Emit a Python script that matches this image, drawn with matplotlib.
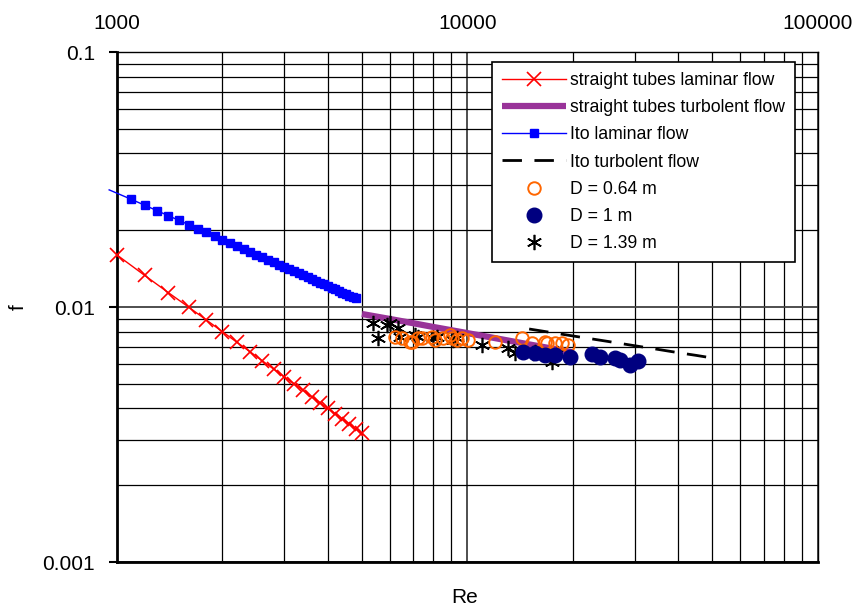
import matplotlib
matplotlib.use('Agg')
import matplotlib.pyplot as plt
from matplotlib.ticker import FixedLocator, FixedFormatter, LogLocator, NullFormatter

plt.rcParams['font.family'] = ['Liberation Sans', 'DejaVu Sans']

# straight tubes, laminar
re_lam = [1000, 1200, 1400, 1600, 1800, 2000, 2200, 2400, 2600, 2800, 3000,
          3200, 3400, 3600, 3800, 4000, 4200, 4400, 4600, 4800, 5000]
f_lam = [0.0160, 0.0133, 0.0114, 0.0100, 0.00889, 0.0080, 0.00727, 0.00667,
         0.00615, 0.00571, 0.00533, 0.0050, 0.00471, 0.00444, 0.00421, 0.0040,
         0.00381, 0.00364, 0.00348, 0.00333, 0.0032]

# straight tubes, turbulent
re_turb = [5000, 6000, 7000, 8000, 9000, 10000, 12000, 14000, 16000, 18000, 20000]
f_turb = [0.00939, 0.00898, 0.00864, 0.00835, 0.00811, 0.00790, 0.00755,
          0.00726, 0.00702, 0.00682, 0.00664]

# Ito laminar
re_ito_lam = [950, 1100, 1200, 1300, 1400, 1500, 1600, 1700, 1800, 1900, 2000,
              2100, 2200, 2300, 2400, 2500, 2600, 2700, 2800, 2900, 3000,
              3100, 3200, 3300, 3400, 3500, 3600, 3700, 3800, 3900, 4000,
              4100, 4200, 4300, 4400, 4500, 4600, 4700, 4800]
f_ito_lam = [0.0288, 0.02642, 0.02507, 0.02388, 0.02283, 0.02189, 0.02105,
             0.02029, 0.01960, 0.01897, 0.01839, 0.01785, 0.01736, 0.01689,
             0.01646, 0.01606, 0.01568, 0.01532, 0.01499, 0.01467, 0.01437,
             0.01409, 0.01382, 0.01357, 0.01332, 0.01309, 0.01287, 0.01266,
             0.01246, 0.01226, 0.01207, 0.01189, 0.01172, 0.01155, 0.01139,
             0.01124, 0.01109, 0.01094, 0.01080]

# Ito turbulent
re_ito_turb = [15000, 20000, 25000, 30000, 35000, 40000, 45000, 50000]
f_ito_turb = [0.00820, 0.00770, 0.00734, 0.00705, 0.00682, 0.00662, 0.00646, 0.00631]

# measurements
re_d064 = [6213, 6505, 6855, 6945, 7226, 7418, 7920, 8077, 8513, 8916, 9033,
           9333, 9645, 10032, 11980, 14305, 15276, 16640, 16860, 17770, 18610, 19350]
f_d064 = [0.00762, 0.00756, 0.00729, 0.00729, 0.00756, 0.00756, 0.00762,
          0.00743, 0.00756, 0.00777, 0.00756, 0.00743, 0.00756, 0.00743,
          0.00729, 0.00756, 0.00722, 0.00729, 0.00722, 0.00722, 0.00722, 0.00709]

re_d1 = [14390, 15580, 16640, 17770, 19610, 22660, 23880, 26360, 27240, 29080, 30650]
f_d1 = [0.00666, 0.00660, 0.00648, 0.00648, 0.00637, 0.00654, 0.00637,
        0.00631, 0.00620, 0.00592, 0.00614]

re_d139 = [5376, 5555, 5892, 6010, 6335, 6419, 7084, 7226, 7972, 8184, 9091,
           9333, 11000, 13050, 13660, 15380, 15580, 17200, 17420, 18010]
f_d139 = [0.00866, 0.00756, 0.00850, 0.00866, 0.00827, 0.00762, 0.00777,
          0.00762, 0.00756, 0.00762, 0.00743, 0.00756, 0.00709, 0.00691,
          0.00660, 0.00660, 0.00666, 0.00637, 0.00608, 0.00660]

fig = plt.figure(figsize=(8.52, 6.07), dpi=100)
ax = fig.add_axes([0.1373, 0.0741, 0.8227, 0.8402])
ax.set_xscale('log')
ax.set_yscale('log')
ax.set_xlim(1000, 100000)
ax.set_ylim(0.001, 0.1)

ax.plot(re_lam, f_lam, color='#FF0000', lw=1, marker='x', ms=10, mew=1.2,
        clip_on=False, label='straight tubes laminar flow', zorder=3)
ax.plot(re_turb, f_turb, color='#993399', lw=4.5, solid_capstyle='butt',
        label='straight tubes turbolent flow', zorder=3)
ax.plot(re_ito_lam, f_ito_lam, color='#0000FF', lw=1, marker='s', ms=6,
        markevery=list(range(1, len(re_ito_lam))), clip_on=False,
        label='Ito laminar flow', zorder=3)
ax.plot(re_ito_turb, f_ito_turb, color='black', lw=2, dashes=(7, 4.5),
        label='Ito turbolent flow', zorder=3)
ax.plot(re_d064, f_d064, ls='none', marker='o', ms=9, mfc='none',
        mec='#FF6600', mew=1.4, label='D = 0.64 m', zorder=5)
ax.plot(re_d1, f_d1, ls='none', marker='o', ms=10.5, color='#000080',
        label='D = 1 m', zorder=6)
ax.plot(re_d139, f_d139, ls='none', marker=(6, 2, 0), ms=11, color='black',
        mew=1.2, label='D = 1.39 m', zorder=4)

# grid on every decade subdivision
ax.xaxis.set_minor_locator(LogLocator(base=10, subs=range(2, 10)))
ax.yaxis.set_minor_locator(LogLocator(base=10, subs=range(2, 10)))
ax.grid(True, which='major', color='#404040', lw=1.3, zorder=1)
ax.grid(True, which='minor', color='black', lw=0.9, zorder=1)
ax.set_axisbelow(True)

ax.xaxis.set_major_locator(FixedLocator([1000, 10000, 100000]))
ax.xaxis.set_major_formatter(FixedFormatter(['1000', '10000', '100000']))
ax.xaxis.set_minor_formatter(NullFormatter())
ax.yaxis.set_major_locator(FixedLocator([0.001, 0.01, 0.1]))
ax.yaxis.set_major_formatter(FixedFormatter(['0.001', '0.01', '0.1']))
ax.yaxis.set_minor_formatter(NullFormatter())

ax.xaxis.tick_top()
ax.tick_params(axis='x', which='both', length=0, pad=13.5, labelsize=15)
ax.tick_params(axis='y', which='major', length=6, width=1.5, direction='out',
               pad=10, labelsize=15)
ax.tick_params(axis='y', which='minor', length=0)

for s in ['left', 'bottom']:
    ax.spines[s].set_linewidth(2)
for s in ['top', 'right']:
    ax.spines[s].set_linewidth(1)

ax.set_xlabel('Re', fontsize=15)
ax.xaxis.set_label_position('bottom')
ax.xaxis.set_label_coords(0.496, -0.05)
ax.set_ylabel('f', fontsize=15)
ax.yaxis.set_label_coords(-0.128, 0.5)

leg = ax.legend(loc='upper right', bbox_to_anchor=(0.967, 0.980),
                borderaxespad=0, fontsize=12.7, numpoints=1,
                handlelength=3.6, handletextpad=0.25, labelspacing=0.58,
                borderpad=0.55, fancybox=False, framealpha=1)
leg.get_frame().set_edgecolor('black')
leg.get_frame().set_linewidth(1.2)
leg.set_zorder(10)

fig.savefig('out.png', dpi=100)
